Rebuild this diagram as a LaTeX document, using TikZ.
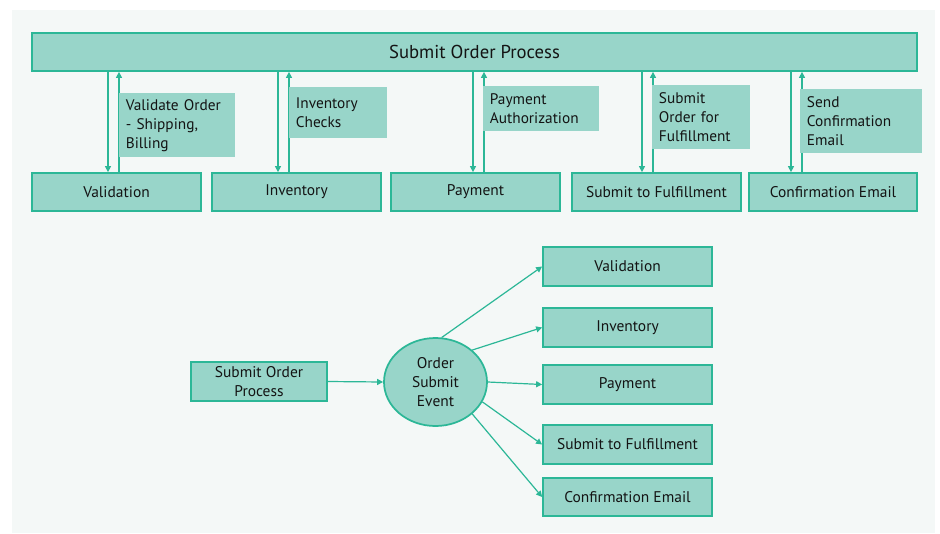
\documentclass[tikz,border=0pt]{standalone}
\usepackage{fontspec}
\setmainfont{PT Sans}
\usetikzlibrary{arrows.meta,shapes.geometric}
\definecolor{bgpanel}{HTML}{F4F8F7}
\definecolor{boxfill}{HTML}{98D5C9}
\definecolor{boxline}{HTML}{2CB797}
\definecolor{txt}{HTML}{141414}
\newlength{\pxu}\setlength{\pxu}{0.75pt}
\tikzset{
  proc/.style={draw=boxline, line width=1.3pt, fill=boxfill, text=txt,
    font=\fontsize{11.6pt}{14pt}\selectfont, inner sep=0pt, align=center},
  note/.style={fill=boxfill, text=txt, anchor=north west, inner xsep=5pt, inner ysep=0pt,
    font=\fontsize{11.5pt}{14.2pt}\selectfont, align=left},
  arr/.style={draw=boxline, line width=0.9pt, -{Triangle[length=4.5pt,width=4.5pt]}},
  evt/.style={ellipse, draw=boxline, line width=1.3pt, fill=boxfill, text=txt,
    font=\fontsize{11.6pt}{14.2pt}\selectfont, align=center, inner sep=0pt}
}
\begin{document}
\begin{tikzpicture}[x=0.75pt, y=-0.75pt]
  \useasboundingbox (0,0) rectangle (940,533);
  \fill[bgpanel] (12,10) rectangle (935,533);

  % top process bar and the five services
  \node[proc, minimum width=885*\pxu, minimum height=38*\pxu,
        font=\fontsize{14pt}{16pt}\selectfont] (top) at (474.5,52) {Submit Order Process};
  \node[proc, minimum width=169*\pxu, minimum height=38*\pxu] (val) at (116.5,192) {Validation};
  \node[proc, minimum width=169*\pxu, minimum height=38*\pxu] (inv) at (296.5,192) {Inventory};
  \node[proc, minimum width=169*\pxu, minimum height=38*\pxu] (pay) at (475.5,192) {Payment};
  \node[proc, minimum width=169*\pxu, minimum height=38*\pxu] (ful) at (656.5,192) {Submit to Fulfillment};
  \node[proc, minimum width=168*\pxu, minimum height=38*\pxu] (cem) at (833,192) {Confirmation Email};

  % call / return lanes
  \coordinate (vd) at (108,0);  \coordinate (vu) at (119,0);
  \coordinate (id) at (278,0);  \coordinate (iu) at (289,0);
  \coordinate (pd) at (473,0);  \coordinate (pu) at (484,0);
  \coordinate (fd) at (642,0);  \coordinate (fu) at (653,0);
  \coordinate (cd) at (791,0);  \coordinate (cu) at (802,0);

  \draw[arr] (top.south -| vd) -- (val.north -| vd);
  \draw[arr] (val.north -| vu) -- (top.south -| vu);
  \draw[arr] (top.south -| id) -- (inv.north -| id);
  \draw[arr] (inv.north -| iu) -- (top.south -| iu);
  \draw[arr] (top.south -| pd) -- (pay.north -| pd);
  \draw[arr] (pay.north -| pu) -- (top.south -| pu);
  \draw[arr] (top.south -| fd) -- (ful.north -| fd);
  \draw[arr] (ful.north -| fu) -- (top.south -| fu);
  \draw[arr] (top.south -| cd) -- (cem.north -| cd);
  \draw[arr] (cem.north -| cu) -- (top.south -| cu);

  % lane notes
  \node[note, minimum width=112*\pxu, minimum height=64*\pxu, text width=102*\pxu] (nval) at (119,93)
    {Validate Order\\- Shipping,\\Billing};
  \node[note, minimum width=94*\pxu, minimum height=51*\pxu, text width=84*\pxu] (ninv) at (289,87)
    {Inventory\\Checks};
  \node[note, minimum width=112*\pxu, minimum height=45*\pxu, text width=102*\pxu] (npay) at (483,86)
    {Payment\\Authorization};
  \node[note, minimum width=94*\pxu, minimum height=64*\pxu, text width=84*\pxu] (nful) at (652,85)
    {Submit\\Order for\\Fulfillment};
  \node[note, minimum width=118*\pxu, minimum height=64*\pxu, text width=108*\pxu] (ncem) at (800,89)
    {Send\\Confirmation\\Email};

  % event fan-out
  \node[proc, minimum width=136*\pxu, minimum height=39*\pxu, font=\fontsize{11.6pt}{14.2pt}\selectfont]
    (sop) at (259,381.5) {Submit Order\\Process};
  \node[evt, minimum width=103*\pxu, minimum height=88*\pxu] (ev) at (435.5,382) {Order\\Submit\\Event};
  \node[proc, minimum width=169*\pxu, minimum height=39*\pxu] (bval) at (627.5,266.5) {Validation};
  \node[proc, minimum width=169*\pxu, minimum height=39*\pxu] (binv) at (627.5,327.5) {Inventory};
  \node[proc, minimum width=169*\pxu, minimum height=39*\pxu] (bpay) at (627.5,384.5) {Payment};
  \node[proc, minimum width=169*\pxu, minimum height=39*\pxu] (bful) at (627.5,444.5) {Submit to Fulfillment};
  \node[proc, minimum width=169*\pxu, minimum height=38*\pxu] (bcem) at (627.5,497) {Confirmation Email};

  \draw[arr] (sop.east) -- (ev.west);
  \draw[arr] (ev.82) -- (bval.west);
  \draw[arr] (ev.41) -- (binv.west);
  \draw[arr] (ev.0) -- (bpay.west);
  \draw[arr] (ev.-23) -- (bful.west);
  \draw[arr] (ev.-41) -- (bcem.west);
\end{tikzpicture}
\end{document}
